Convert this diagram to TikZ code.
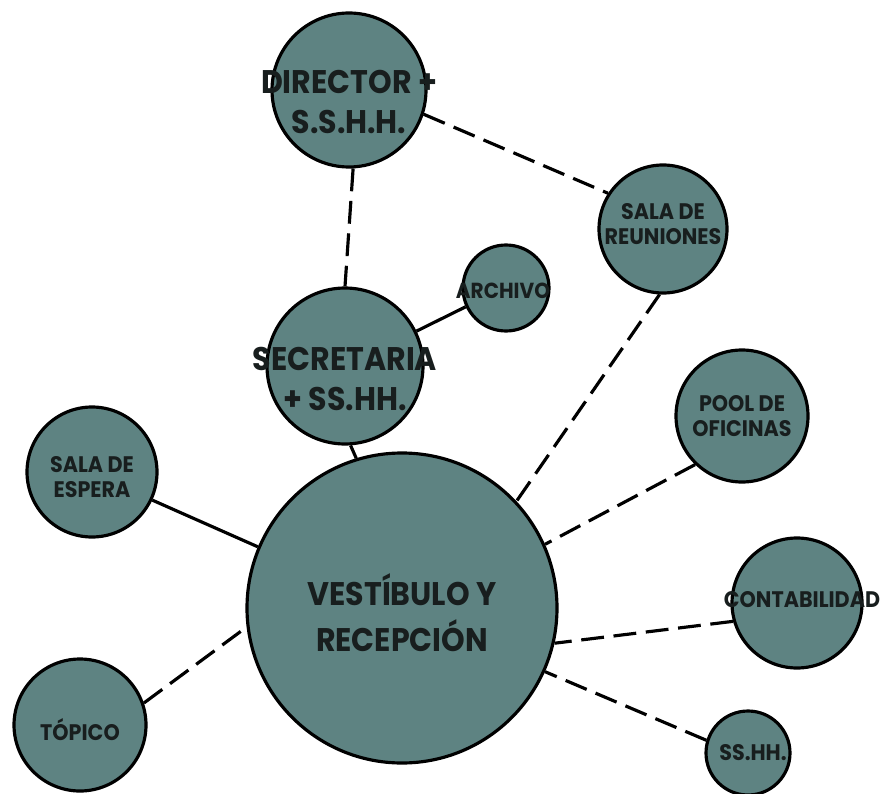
\documentclass[tikz,border=0pt]{standalone}
\usepackage{fontspec}
\setmainfont{Poppins}[FakeStretch=0.92]
\usepackage{tikz}
\usetikzlibrary{positioning}
\definecolor{roomfill}{RGB}{94,131,130}
\definecolor{txtdark}{RGB}{24,30,30}
\tikzset{room/.style={circle,draw=black,fill=roomfill,line width=1.8pt,inner sep=0pt}}
\tikzset{lbl/.style={align=center,text=txtdark,inner sep=0pt}}
\tikzset{biglbl/.style={lbl,font=\bfseries\fontsize{18.6}{22.5}\selectfont}}
\tikzset{smllbl/.style={lbl,font=\bfseries\fontsize{12.8}{14.5}\selectfont}}
\tikzset{conn/.style={line width=1.8pt}}
\tikzset{dconn/.style={line width=1.8pt,dash pattern=on 13pt off 5.5pt}}

\begin{document}
\begin{tikzpicture}
\useasboundingbox (0,0) rectangle (17.64,-15.88);

\node [room,minimum size=3.08cm] at (6.98,-1.80) (dir)
	[label={[biglbl,yshift=-0.24cm]center:DIRECTOR +\\ S.S.H.H.}] {};
\node [room,minimum size=2.56cm] at (13.26,-4.58) (reu)
	[label={[smllbl,yshift=0.1cm]center:SALA DE\\ REUNIONES}] {};
\node [room,minimum size=1.72cm] at (10.12,-5.76) (arch)
	[label={[smllbl,font=\bfseries\fontsize{12.4}{14}\selectfont,xshift=-0.06cm,yshift=-0.06cm]center:ARCHIVO}] {};
\node [room,minimum size=3.12cm] at (6.90,-7.32) (sec)
	[label={[biglbl,yshift=-0.26cm]center:SECRETARIA\\ + SS.HH.}] {};
\node [room,minimum size=2.6cm] at (1.84,-9.44) (esp)
	[label={[smllbl,yshift=-0.1cm]center:SALA DE\\ ESPERA}] {};
\node [room,minimum size=2.64cm] at (14.84,-8.32) (pool)
	[label={[smllbl]center:POOL DE\\ OFICINAS}] {};
\node [room,minimum size=6.2cm] at (8.04,-12.16) (vest)
	[label={[biglbl,font=\bfseries\fontsize{18.6}{26}\selectfont,yshift=-0.1cm]center:VESTÍBULO Y\\ RECEPCIÓN}] {};
\node [room,minimum size=2.6cm] at (15.94,-12.06) (cont)
	[label={[smllbl,xshift=0.1cm,yshift=0.06cm]center:CONTABILIDAD}] {};
\node [room,minimum size=2.64cm] at (1.60,-14.50) (top)
	[label={[smllbl,yshift=-0.1cm]center:TÓPICO}] {};
\node [room,minimum size=1.68cm] at (14.96,-15.06) (sshh)
	[label={[smllbl,xshift=0.1cm]center:SS.HH.}] {};

% upper wing
\draw [dconn] (dir.-87) -- (sec.90);
\draw [dconn] (dir.-18) -- (reu.147);
\draw [dconn] (reu.-93) -- (vest.43);
\draw [conn] (arch.205) -- (sec.26);
\draw [conn] (sec.-86) -- (vest.107.6);

% around the hall
\draw [conn] (esp.-25.5) -- (vest.157.4);
\draw [dconn] (top.19) -- (vest.187);
\draw [dconn] (pool.226) -- (vest.24);
\draw [dconn] (cont.196.5) -- (vest.-13.4);
\draw [dconn] (sshh.163) -- (vest.-24);
\end{tikzpicture}
\end{document}
